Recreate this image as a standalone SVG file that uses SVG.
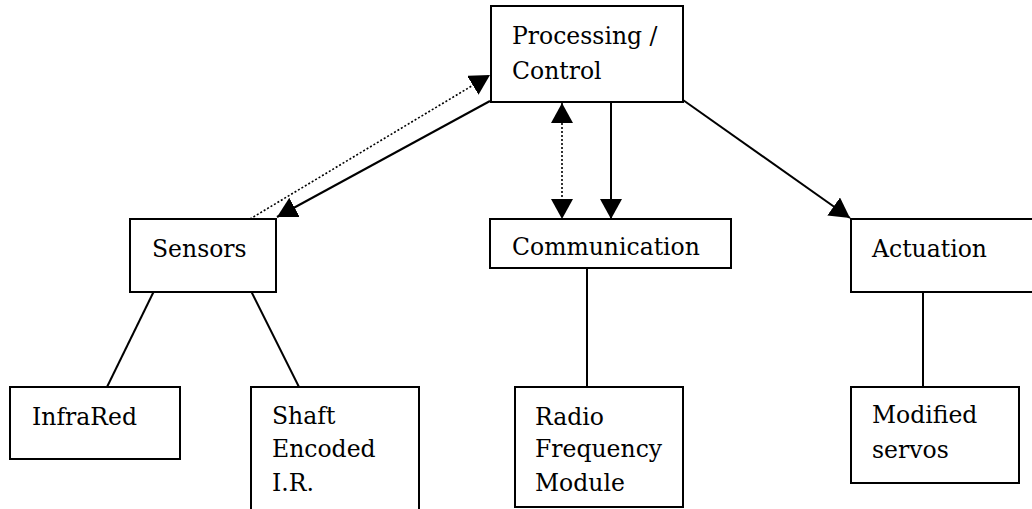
<svg xmlns="http://www.w3.org/2000/svg" width="1032" height="509" viewBox="0 0 1032 509">
<style>
.box{fill:#fff;stroke:#000;stroke-width:2}
.ln{stroke:#000;stroke-width:2;fill:none}
.dot{stroke:#000;stroke-width:1.6;fill:none;stroke-dasharray:2,2}
.t{font-family:"DejaVu Serif",serif;font-size:23.5px;fill:#000}
</style>
<defs>
<marker id="ah" markerUnits="userSpaceOnUse" markerWidth="20" markerHeight="22" refX="20" refY="11" orient="auto-start-reverse" viewBox="0 0 20 22">
<path d="M0,0 L20,11 L0,22 z" fill="#000"/>
</marker>
</defs>
<rect width="1032" height="509" fill="#fff"/>
<g id="connectors">
<line class="dot" x1="250" y1="219" x2="490" y2="75" marker-end="url(#ah)"/>
<line class="ln" x1="490" y1="101" x2="277" y2="217" marker-end="url(#ah)"/>
<line class="dot" x1="562" y1="103" x2="562" y2="219" marker-start="url(#ah)" marker-end="url(#ah)"/>
<line class="ln" x1="611" y1="102" x2="611" y2="219" marker-end="url(#ah)"/>
<line class="ln" x1="683" y1="100" x2="850" y2="218" marker-end="url(#ah)"/>
<line class="ln" x1="154" y1="291" x2="107" y2="387"/>
<line class="ln" x1="251" y1="291" x2="299" y2="387"/>
<line class="ln" x1="587" y1="268" x2="587" y2="387"/>
<line class="ln" x1="923" y1="292" x2="923" y2="387"/>
</g>
<g id="processing">
<rect class="box" x="491" y="6" width="192" height="96"/>
<text class="t" x="512" y="44">Processing /</text>
<text class="t" x="512" y="79">Control</text>
</g>
<g id="sensors">
<rect class="box" x="130" y="219" width="146" height="73"/>
<text class="t" x="152" y="257">Sensors</text>
</g>
<g id="communication">
<rect class="box" x="490" y="219" width="241" height="49"/>
<text class="t" x="512" y="255">Communication</text>
</g>
<g id="actuation">
<rect class="box" x="851" y="219" width="200" height="73"/>
<text class="t" x="872" y="257">Actuation</text>
</g>
<g id="infrared">
<rect class="box" x="10" y="387" width="170" height="72"/>
<text class="t" x="32" y="425">InfraRed</text>
</g>
<g id="shaft">
<rect class="box" x="251" y="387" width="168" height="140"/>
<text class="t" x="272" y="424">Shaft</text>
<text class="t" x="272" y="457">Encoded</text>
<text class="t" x="272" y="491">I.R.</text>
</g>
<g id="radio">
<rect class="box" x="515" y="387" width="168" height="120"/>
<text class="t" x="535" y="425">Radio</text>
<text class="t" x="535" y="457">Frequency</text>
<text class="t" x="535" y="491">Module</text>
</g>
<g id="servos">
<rect class="box" x="851" y="387" width="168" height="96"/>
<text class="t" x="872" y="423">Modified</text>
<text class="t" x="872" y="458">servos</text>
</g>
</svg>
